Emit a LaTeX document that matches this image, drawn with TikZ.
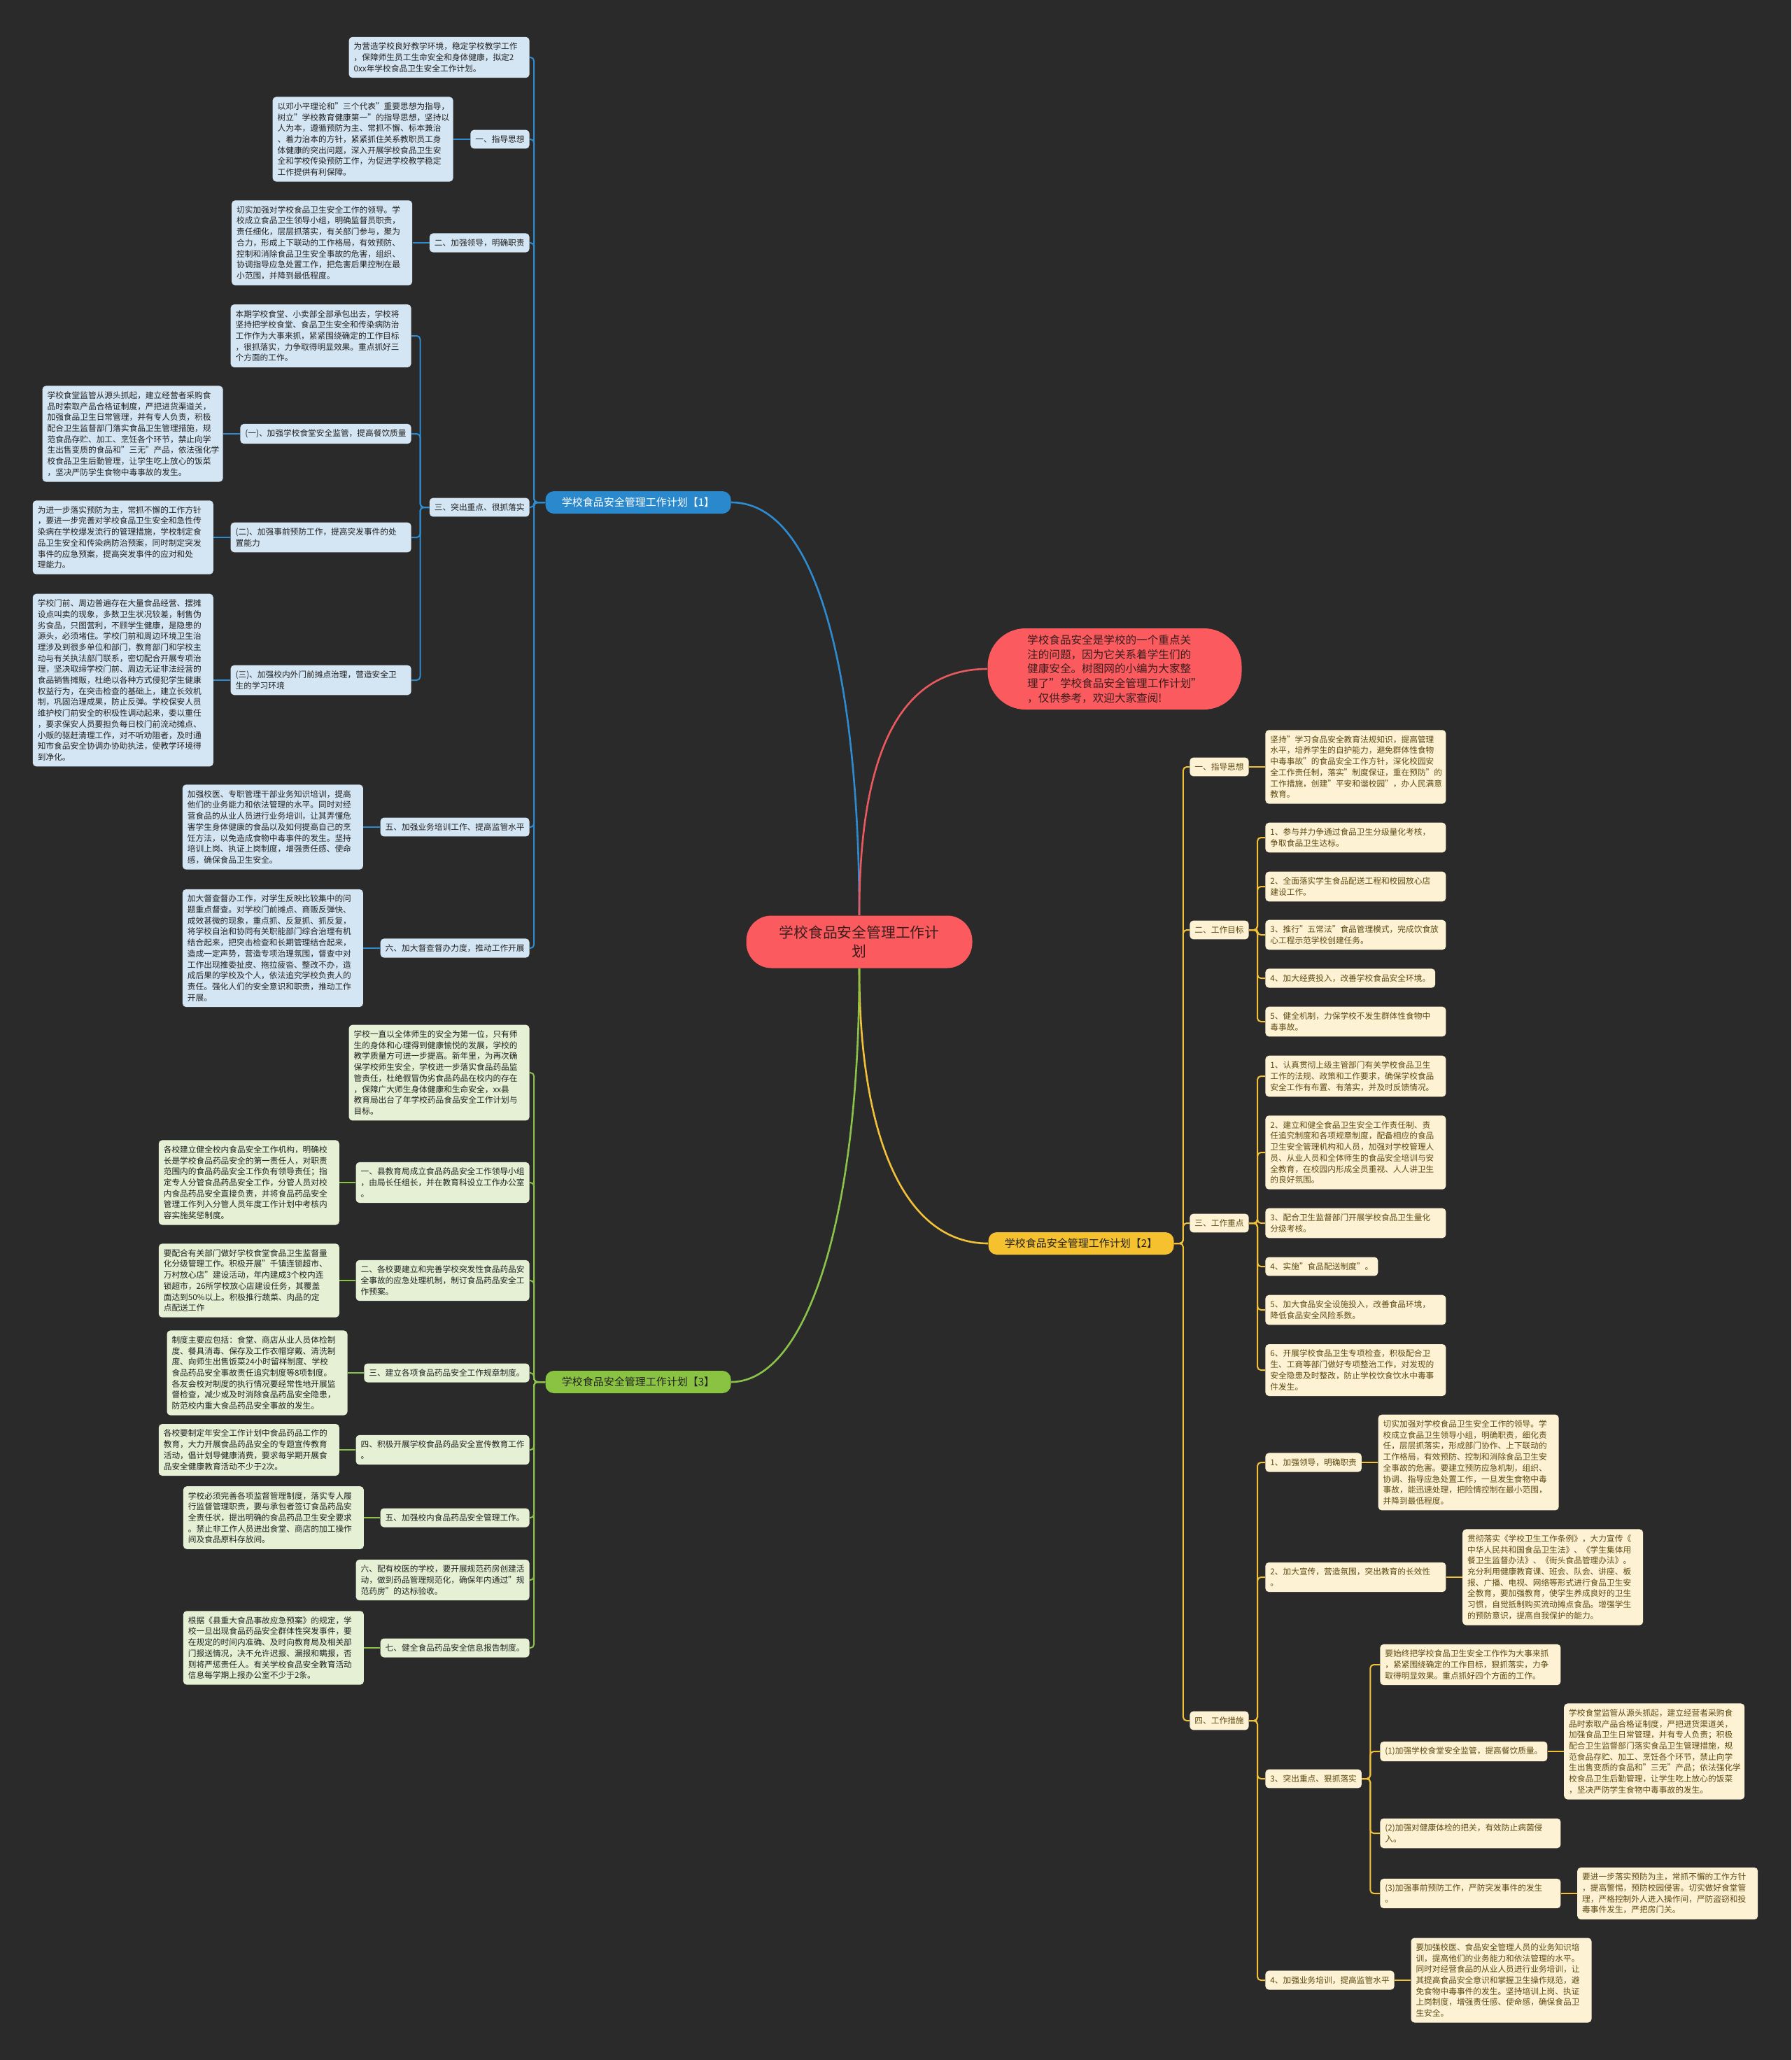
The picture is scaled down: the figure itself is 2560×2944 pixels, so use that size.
\documentclass[tikz,border=0pt]{standalone}
\usepackage{fontspec}
\setmainfont{Noto Sans CJK SC}
\definecolor{bgc}{HTML}{2A2A2A}
\definecolor{blueline}{HTML}{2E8BCF}
\definecolor{bluefill}{HTML}{2A88CC}
\definecolor{blueleaf}{HTML}{D4E6F4}
\definecolor{darktext}{HTML}{222222}
\definecolor{redfill}{HTML}{FB5B5F}
\definecolor{redline}{HTML}{E9595D}
\definecolor{redtext}{HTML}{3B1E1E}
\definecolor{yellowfill}{HTML}{F6C12F}
\definecolor{yellowline}{HTML}{F2C13A}
\definecolor{yellowleaf}{HTML}{FDF2D3}
\definecolor{yellowtext}{HTML}{5E4A12}
\definecolor{greenfill}{HTML}{8AC341}
\definecolor{greenline}{HTML}{8BC34A}
\definecolor{greenleaf}{HTML}{E5F0D4}
\newcommand{\leaffont}{\fontsize{5.85pt}{7.85pt}\selectfont}
\newcommand{\branchfont}{\fontsize{7.5pt}{9pt}\selectfont}
\newcommand{\centerfont}{\fontsize{10.4pt}{13.5pt}\selectfont}
\newcommand{\introfont}{\fontsize{7.8pt}{10.4pt}\selectfont}
\tikzset{
  box/.style={rectangle, rounded corners=2.5pt, align=left, font=\leaffont, inner xsep=3.5pt, inner ysep=4pt},
  bl/.style={box, fill=blueleaf, text=darktext},
  blw/.style={bl, text width=122pt},
  gl/.style={box, fill=greenleaf, text=darktext},
  glw/.style={gl, text width=122pt},
  yl/.style={box, fill=yellowleaf, text=yellowtext},
  ylw/.style={yl, text width=122pt},
  branchbox/.style={rectangle, rounded corners=6pt, font=\branchfont, minimum width=132.5pt, minimum height=16pt, inner sep=2pt},
  bconn/.style={draw=blueline, line width=1pt, rounded corners=2.5pt},
  gconn/.style={draw=greenline, line width=1pt, rounded corners=2.5pt},
  yconn/.style={draw=yellowline, line width=1pt, rounded corners=2.5pt},
  mainline/.style={line width=1.3pt}
}
\begin{document}
\begin{tikzpicture}[x=0.5pt,y=-0.5pt]
\fill[bgc] (0,0) rectangle (2560,2944);
\useasboundingbox (0,0) rectangle (2560,2944);

% ---------- centre ----------
\node[rectangle, rounded corners=18pt, fill=redfill, text=redtext, font=\centerfont, align=center, minimum width=161.5pt, minimum height=37.5pt] (C) at (1228,1346) {学校食品安全管理工作计\\划};
\node[rectangle, rounded corners=27pt, fill=redfill, text=redtext, font=\introfont, align=left, minimum width=181.5pt, minimum height=58pt] (I) at (1593,956) {学校食品安全是学校的一个重点关\\注的问题，因为它关系着学生们的\\健康安全。树图网的小编为大家整\\理了"学校食品安全管理工作计划"\\，仅供参考，欢迎大家查阅!};

\node[branchbox, fill=bluefill, text=white] (B1) at (912,718) {学校食品安全管理工作计划【1】};
\node[branchbox, fill=yellowfill, text=darktext] (B2) at (1545,1777) {学校食品安全管理工作计划【2】};
\node[branchbox, fill=greenfill, text=darktext] (B3) at (912,1975) {学校食品安全管理工作计划【3】};

\draw[mainline, blueline] (C.north) .. controls (1228,1050) and (1190,718) .. (B1.east);
\draw[mainline, redline] (C.north) .. controls (1228,1050) and (1300,956) .. (I.west);
\draw[mainline, yellowline] (C.south) .. controls (1228,1620) and (1290,1777) .. (B2.west);
\draw[mainline, greenline] (C.south) .. controls (1228,1750) and (1150,1975) .. (B3.east);

% ---------- blue branch ----------
\node[blw, anchor=east] (b0) at (757,82) {为营造学校良好教学环境，稳定学校教学工作\\，保障师生员工生命安全和身体健康，拟定2\\0xx年学校食品卫生安全工作计划。};
\node[bl, anchor=east] (b1) at (757,199) {一、指导思想};
\node[blw, anchor=east] (b1l) at ([xshift=-12pt]b1.west) {以邓小平理论和"三个代表"重要思想为指导，\\树立"学校教育健康第一"的指导思想，坚持以\\人为本，遵循预防为主、常抓不懈、标本兼治\\、着力治本的方针，紧紧抓住关系教职员工身\\体健康的突出问题，深入开展学校食品卫生安\\全和学校传染预防工作，为促进学校教学稳定\\工作提供有利保障。};
\node[bl, anchor=east] (b2) at (757,347) {二、加强领导，明确职责};
\node[blw, anchor=east] (b2l) at ([xshift=-12pt]b2.west) {切实加强对学校食品卫生安全工作的领导。学\\校成立食品卫生领导小组，明确监督员职责，\\责任细化，层层抓落实，有关部门参与，聚为\\合力，形成上下联动的工作格局，有效预防、\\控制和消除食品卫生安全事故的危害，组织、\\协调指导应急处置工作，把危害后果控制在最\\小范围，并降到最低程度。};
\node[bl, anchor=east] (b3) at (757,725) {三、突出重点、很抓落实};
\node[blw, anchor=east] (b3o) at (588,480) {本期学校食堂、小卖部全部承包出去，学校将\\坚持把学校食堂、食品卫生安全和传染病防治\\工作作为大事来抓，紧紧围绕确定的工作目标\\，很抓落实，力争取得明显效果。重点抓好三\\个方面的工作。};
\node[bl, anchor=east] (b3a) at (588,620) {(一)、加强学校食堂安全监管，提高餐饮质量};
\node[blw, anchor=east] (b3al) at ([xshift=-12pt]b3a.west) {学校食堂监管从源头抓起，建立经营者采购食\\品时索取产品合格证制度，严把进货渠道关，\\加强食品卫生日常管理，并有专人负责，积极\\配合卫生监督部门落实食品卫生管理措施，规\\范食品存贮、加工、烹饪各个环节，禁止向学\\生出售变质的食品和"三无"产品，依法强化学\\校食品卫生后勤管理，让学生吃上放心的饭菜\\，坚决严防学生食物中毒事故的发生。};
\node[blw, anchor=east] (b3b) at (588,768) {(二)、加强事前预防工作，提高突发事件的处\\置能力};
\node[blw, anchor=east] (b3bl) at ([xshift=-12pt]b3b.west) {为进一步落实预防为主，常抓不懈的工作方针\\，要进一步完善对学校食品卫生安全和急性传\\染病在学校爆发流行的管理措施，学校制定食\\品卫生安全和传染病防治预案，同时制定突发\\事件的应急预案，提高突发事件的应对和处\\理能力。};
\node[blw, anchor=east] (b3c) at (588,972) {(三)、加强校内外门前摊点治理，营造安全卫\\生的学习环境};
\node[blw, anchor=east] (b3cl) at ([xshift=-12pt]b3c.west) {学校门前、周边普遍存在大量食品经营、摆摊\\设点叫卖的现象，多数卫生状况较差，制售伪\\劣食品，只图营利，不顾学生健康，是隐患的\\源头，必须堵住。学校门前和周边环境卫生治\\理涉及到很多单位和部门，教育部门和学校主\\动与有关执法部门联系，密切配合开展专项治\\理，坚决取缔学校门前、周边无证非法经营的\\食品销售摊贩，杜绝以各种方式侵犯学生健康\\权益行为，在突击检查的基础上，建立长效机\\制，巩固治理成果，防止反弹。学校保安人员\\维护校门前安全的积极性调动起来，委以重任\\，要求保安人员要担负每日校门前流动摊点、\\小贩的驱赶清理工作，对不听劝阻者，及时通\\知市食品安全协调办协助执法，使教学环境得\\到净化。};
\node[bl, anchor=east] (b5) at (757,1182) {五、加强业务培训工作、提高监管水平};
\node[blw, anchor=east] (b5l) at ([xshift=-12pt]b5.west) {加强校医、专职管理干部业务知识培训，提高\\他们的业务能力和依法管理的水平。同时对经\\营食品的从业人员进行业务培训，让其弄懂危\\害学生身体健康的食品以及如何提高自己的烹\\饪方法，以免造成食物中毒事件的发生。坚持\\培训上岗、执证上岗制度，增强责任感、使命\\感，确保食品卫生安全。};
\node[bl, anchor=east] (b6) at (757,1355) {六、加大督查督办力度，推动工作开展};
\node[blw, anchor=east] (b6l) at ([xshift=-12pt]b6.west) {加大督查督办工作，对学生反映比较集中的问\\题重点督查。对学校门前摊点、商贩反弹快、\\成效甚微的现象，重点抓、反复抓、抓反复，\\将学校自治和协同有关职能部门综合治理有机\\结合起来，把突击检查和长期管理结合起来，\\造成一定声势，营造专项治理氛围，督查中对\\工作出现推委扯皮、拖拉疲沓、整改不办，造\\成后果的学校及个人，依法追究学校负责人的\\责任。强化人们的安全意识和职责，推动工作\\开展。};

\foreach \n in {b0,b1,b2,b3,b5,b6} \draw[bconn] (B1.west) -- ++(-8pt,0) |- (\n.east);
\foreach \n in {b3o,b3a,b3b,b3c} \draw[bconn] (b3.west) -- ++(-6.5pt,0) |- (\n.east);
\foreach \n in {b1,b2,b3a,b3b,b3c,b5,b6} \draw[bconn] (\n.west) -- (\n l.east);

% ---------- green branch ----------
\node[glw, anchor=east] (g0) at (757,1533) {学校一直以全体师生的安全为第一位，只有师\\生的身体和心理得到健康愉悦的发展，学校的\\教学质量方可进一步提高。新年里，为再次确\\保学校师生安全，学校进一步落实食品药品监\\管责任，杜绝假冒伪劣食品药品在校内的存在\\，保障广大师生身体健康和生命安全，xx县\\教育局出台了年学校药品食品安全工作计划与\\目标。};
\node[gl, anchor=east] (g1) at (757,1690) {一、县教育局成立食品药品安全工作领导小组\\，由局长任组长，并在教育科设立工作办公室\\。};
\node[glw, anchor=east] (g1l) at ([xshift=-11.5pt]g1.west) {各校建立健全校内食品安全工作机构，明确校\\长是学校食品药品安全的第一责任人，对职责\\范围内的食品药品安全工作负有领导责任；指\\定专人分管食品药品安全工作，分管人员对校\\内食品药品安全直接负责，并将食品药品安全\\管理工作列入分管人员年度工作计划中考核内\\容实施奖惩制度。};
\node[gl, anchor=east] (g2) at (757,1830) {二、各校要建立和完善学校突发性食品药品安\\全事故的应急处理机制，制订食品药品安全工\\作预案。};
\node[glw, anchor=east] (g2l) at ([xshift=-11.5pt]g2.west) {要配合有关部门做好学校食堂食品卫生监督量\\化分级管理工作。积极开展"千镇连锁超市、\\万村放心店"建设活动，年内建成3个校内连\\锁超市，26所学校放心店建设任务，其覆盖\\面达到50\%以上。积极推行蔬菜、肉品的定\\点配送工作};
\node[gl, anchor=east] (g3) at (757,1962) {三、建立各项食品药品安全工作规章制度。};
\node[glw, anchor=east] (g3l) at ([xshift=-11.5pt]g3.west) {制度主要应包括：食堂、商店从业人员体检制\\度、餐具消毒、保存及工作衣帽穿戴、清洗制\\度、向师生出售饭菜24小时留样制度、学校\\食品药品安全事故责任追究制度等8项制度。\\各友会校对制度的执行情况要经常性地开展监\\督检查，减少或及时消除食品药品安全隐患，\\防范校内重大食品药品安全事故的发生。};
\node[gl, anchor=east] (g4) at (757,2072) {四、积极开展学校食品药品安全宣传教育工作\\。};
\node[glw, anchor=east] (g4l) at ([xshift=-11.5pt]g4.west) {各校要制定年安全工作计划中食品药品工作的\\教育，大力开展食品药品安全的专题宣传教育\\活动，倡计划导健康消费，要求每学期开展食\\品安全健康教育活动不少于2次。};
\node[gl, anchor=east] (g5) at (757,2169) {五、加强校内食品药品安全管理工作。};
\node[glw, anchor=east] (g5l) at ([xshift=-11.5pt]g5.west) {学校必须完善各项监督管理制度，落实专人履\\行监督管理职责，要与承包者签订食品药品安\\全责任状，提出明确的食品药品卫生安全要求\\。禁止非工作人员进出食堂、商店的加工操作\\间及食品原料存放间。};
\node[gl, anchor=east] (g6) at (757,2258) {六、配有校医的学校，要开展规范药房创建活\\动，做到药品管理规范化，确保年内通过"规\\范药房"的达标验收。};
\node[gl, anchor=east] (g7) at (757,2355) {七、健全食品药品安全信息报告制度。};
\node[glw, anchor=east] (g7l) at ([xshift=-11.5pt]g7.west) {根据《县重大食品事故应急预案》的规定，学\\校一旦出现食品药品安全群体性突发事件，要\\在规定的时间内准确、及时向教育局及相关部\\门报送情况，决不允许迟报、漏报和瞒报，否\\则将严惩责任人。有关学校食品安全教育活动\\信息每学期上报办公室不少于2条。};

\foreach \n in {g0,g1,g2,g3,g4,g5,g6,g7} \draw[gconn] (B3.west) -- ++(-8pt,0) |- (\n.east);
\foreach \n in {g1,g2,g3,g4,g5,g7} \draw[gconn] (\n.west) -- (\n l.east);

% ---------- yellow branch ----------
\node[yl, anchor=west] (y1) at (1700,1096) {一、指导思想};
\node[ylw, anchor=west] (y1l) at ([xshift=11.5pt]y1.east) {坚持"学习食品安全教育法规知识，提高管理\\水平，培养学生的自护能力，避免群体性食物\\中毒事故"的食品安全工作方针，深化校园安\\全工作责任制，落实"制度保证，重在预防"的\\工作措施，创建"平安和谐校园"，办人民满意\\教育。};
\node[yl, anchor=west] (y2) at (1700,1329) {二、工作目标};
\node[ylw, anchor=west] (y2a) at (1808,1197) {1、参与并力争通过食品卫生分级量化考核，\\争取食品卫生达标。};
\node[ylw, anchor=west] (y2b) at (1808,1267) {2、全面落实学生食品配送工程和校园放心店\\建设工作。};
\node[ylw, anchor=west] (y2c) at (1808,1336) {3、推行"五常法"食品管理模式，完成饮食放\\心工程示范学校创建任务。};
\node[yl, anchor=west] (y2d) at (1808,1398) {4、加大经费投入，改善学校食品安全环境。};
\node[ylw, anchor=west] (y2e) at (1808,1460) {5、健全机制，力保学校不发生群体性食物中\\毒事故。};
\node[yl, anchor=west] (y3) at (1700,1748) {三、工作重点};
\node[ylw, anchor=west] (y3a) at (1808,1538) {1、认真贯彻上级主管部门有关学校食品卫生\\工作的法规、政策和工作要求，确保学校食品\\安全工作有布置、有落实，并及时反馈情况。};
\node[ylw, anchor=west] (y3b) at (1808,1647) {2、建立和健全食品卫生安全工作责任制、责\\任追究制度和各项规章制度，配备相应的食品\\卫生安全管理机构和人员，加强对学校管理人\\员、从业人员和全体师生的食品安全培训与安\\全教育，在校园内形成全员重视、人人讲卫生\\的良好氛围。};
\node[ylw, anchor=west] (y3c) at (1808,1748) {3、配合卫生监督部门开展学校食品卫生量化\\分级考核。};
\node[yl, anchor=west] (y3d) at (1808,1810) {4、实施"食品配送制度"。};
\node[ylw, anchor=west] (y3e) at (1808,1872) {5、加大食品安全设施投入，改善食品环境，\\降低食品安全风险系数。};
\node[ylw, anchor=west] (y3f) at (1808,1958) {6、开展学校食品卫生专项检查，积极配合卫\\生、工商等部门做好专项整治工作，对发现的\\安全隐患及时整改，防止学校饮食饮水中毒事\\件发生。};
\node[yl, anchor=west] (y4) at (1700,2459) {四、工作措施};
\node[yl, anchor=west] (y4a) at (1808,2090) {1、加强领导，明确职责};
\node[ylw, anchor=west] (y4al) at ([xshift=11.5pt]y4a.east) {切实加强对学校食品卫生安全工作的领导。学\\校成立食品卫生领导小组，明确职责，细化责\\任，层层抓落实，形成部门协作、上下联动的\\工作格局，有效预防、控制和消除食品卫生安\\全事故的危害。要建立预防应急机制，组织、\\协调、指导应急处置工作，一旦发生食物中毒\\事故，能迅速处理，把险情控制在最小范围，\\并降到最低程度。};
\node[ylw, anchor=west] (y4b) at (1808,2254) {2、加大宣传，营造氛围，突出教育的长效性\\。};
\node[ylw, anchor=west] (y4bl) at ([xshift=11.5pt]y4b.east) {贯彻落实《学校卫生工作条例》，大力宣传《\\中华人民共和国食品卫生法》、《学生集体用\\餐卫生监督办法》、《街头食品管理办法》。\\充分利用健康教育课、班会、队会、讲座、板\\报、广播、电视、网络等形式进行食品卫生安\\全教育，要加强教育，使学生养成良好的卫生\\习惯，自觉抵制购买流动摊点食品。增强学生\\的预防意识，提高自我保护的能力。};
\node[yl, anchor=west] (y4c) at (1808,2542) {3、突出重点、狠抓落实};
\node[ylw, anchor=west] (y4c0) at (1972,2379) {要始终把学校食品卫生安全工作作为大事来抓\\，紧紧围绕确定的工作目标，狠抓落实，力争\\取得明显效果。重点抓好四个方面的工作。};
\node[yl, anchor=west] (y4c1) at (1972,2503) {(1)加强学校食堂安全监管，提高餐饮质量。};
\node[ylw, anchor=west] (y4c1l) at ([xshift=11.5pt]y4c1.east) {学校食堂监管从源头抓起，建立经营者采购食\\品时索取产品合格证制度，严把进货渠道关，\\加强食品卫生日常管理，并有专人负责；积极\\配合卫生监督部门落实食品卫生管理措施，规\\范食品存贮、加工、烹饪各个环节，禁止向学\\生出售变质的食品和"三无"产品；依法强化学\\校食品卫生后勤管理，让学生吃上放心的饭菜\\，坚决严防学生食物中毒事故的发生。};
\node[ylw, anchor=west] (y4c2) at (1972,2620) {(2)加强对健康体检的把关，有效防止病菌侵\\入。};
\node[ylw, anchor=west] (y4c3) at (1972,2706) {(3)加强事前预防工作，严防突发事件的发生\\。};
\node[ylw, anchor=west] (y4c3l) at ([xshift=11.5pt]y4c3.east) {要进一步落实预防为主，常抓不懈的工作方针\\，提高警惕，预防校园侵害。切实做好食堂管\\理，严格控制外人进入操作间，严防盗窃和投\\毒事件发生，严把房门关。};
\node[yl, anchor=west] (y4d) at (1808,2830) {4、加强业务培训，提高监管水平};
\node[ylw, anchor=west] (y4dl) at ([xshift=11.5pt]y4d.east) {要加强校医、食品安全管理人员的业务知识培\\训，提高他们的业务能力和依法管理的水平。\\同时对经营食品的从业人员进行业务培训，让\\其提高食品安全意识和掌握卫生操作规范，避\\免食物中毒事件的发生。坚持培训上岗、执证\\上岗制度，增强责任感、使命感，确保食品卫\\生安全。};

\foreach \n in {y1,y2,y3,y4} \draw[yconn] (B2.east) -- ++(6.5pt,0) |- (\n.west);
\foreach \n in {y2a,y2b,y2c,y2d,y2e} \draw[yconn] (y2.east) -- ++(6pt,0) |- (\n.west);
\foreach \n in {y3a,y3b,y3c,y3d,y3e,y3f} \draw[yconn] (y3.east) -- ++(6pt,0) |- (\n.west);
\foreach \n in {y4a,y4b,y4c,y4d} \draw[yconn] (y4.east) -- ++(6pt,0) |- (\n.west);
\foreach \n in {y4c0,y4c1,y4c2,y4c3} \draw[yconn] (y4c.east) -- ++(6pt,0) |- (\n.west);
\foreach \n in {y1,y4a,y4b,y4c1,y4c3,y4d} \draw[yconn] (\n.east) -- (\n l.west);
\end{tikzpicture}
\end{document}
